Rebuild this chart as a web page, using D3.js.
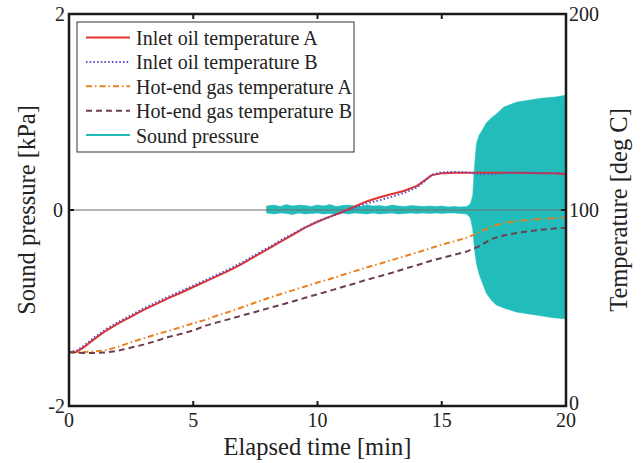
<!DOCTYPE html>
<html lang="en">
<head>
    <meta charset="UTF-8">
    <title>Sound pressure and temperatures</title>
    <script src="https://d3js.org/d3.v7.min.js"></script>
</head>

<style>
    body { margin: 0; background: #fff; }
    text { font-family: "Liberation Serif", "Times New Roman", serif; fill: #222; }
    .tick-label { font-size: 20px; }
    .axis-title { font-size: 24.5px; }
    .legend text { font-size: 20px; }
</style>

<body>
<svg width="641" height="463"></svg>

<script>
    // elapsed time [min] for the temperature traces
    var timeMin = [0, 0.3, 0.6, 1, 1.5, 2, 2.5, 3, 3.5, 4, 4.5, 5, 5.5, 6, 6.5, 7, 7.5, 8, 8.5, 9, 9.5,
        10, 10.5, 11, 11.5, 12, 12.5, 13, 13.5, 14, 14.3, 14.6, 15, 15.5, 16, 16.5, 17, 17.5, 18, 18.5, 19, 19.5, 20];

    // temperatures [deg C]
    var inletOilA = [27.4, 27.6, 30, 34, 38.5, 42.3, 45.6, 49, 52, 55, 57.8, 60.7, 63.6, 66.5, 69.5, 72.8, 76.5, 80, 83.7, 87.3, 91,
        94, 96.6, 99, 101.8, 104.5, 106.5, 108.2, 109.8, 112.3, 115, 117.8, 118.7, 119, 119, 119, 119, 119, 119, 118.9, 118.8, 118.7, 118.3];
    var inletOilB = [27.8, 28.2, 30.8, 34.8, 39.3, 43, 46.4, 49.8, 52.8, 55.8, 58.6, 61.4, 64.3, 67.2, 70.2, 73.5, 77.2, 80.7, 84.4, 87.9, 91.3,
        94.2, 96.5, 98.8, 101.2, 103.5, 105, 106.8, 108.8, 111.5, 114.5, 118, 119.3, 119.4, 119.2, 118.4, 118.4, 118.8, 119, 119, 118.9, 118.9, 119];
    var hotGasA = [27.4, 27.4, 27.5, 27.8, 28.5, 30.3, 32.5, 34.5, 36.5, 38.3, 40.2, 42.2, 44, 46.3, 48.3, 50.5, 52.8, 55, 57, 59, 61,
        63, 64.8, 66.8, 68.8, 70.8, 72.6, 74.5, 76.4, 78.3, 79.5, 80.7, 82.3, 84, 85.8, 88.5, 91.6, 93.4, 94.4, 95, 95.4, 95.8, 96.2];
    var hotGasB = [27.4, 27.2, 27, 27, 27.3, 28.3, 29.8, 31.3, 33.2, 35.2, 36.8, 38.5, 41, 42.8, 44.5, 46.3, 48, 49.8, 51.5, 53.3, 55.2,
        57, 58.8, 60.7, 62.5, 64.5, 66.2, 68, 70, 71.8, 73, 74.2, 75.5, 77.2, 78.8, 81.5, 85.2, 87, 88.3, 89.2, 89.9, 90.5, 91];

    // sound pressure envelope [kPa]
    var soundTime = [7.95, 8.25, 8.5, 8.75, 9, 9.25, 9.5, 9.75, 10, 10.25, 10.5, 10.75, 11, 11.25, 11.5, 11.75, 12, 12.25, 12.5, 12.75,
        13, 13.25, 13.5, 13.75, 14, 14.25, 14.5, 14.75, 15, 15.25, 15.5, 15.75, 16, 16.15, 16.25, 16.32, 16.4, 16.5, 16.6, 16.8,
        17, 17.2, 17.5, 18, 18.5, 19, 19.5, 20];
    var soundUpper = [0.04, 0.05, 0.035, 0.055, 0.04, 0.05, 0.045, 0.035, 0.05, 0.04, 0.055, 0.035, 0.045, 0.05, 0.04, 0.035, 0.05, 0.04, 0.045, 0.035,
        0.05, 0.04, 0.035, 0.045, 0.04, 0.035, 0.04, 0.035, 0.04, 0.03, 0.035, 0.03, 0.035, 0.06, 0.15, 0.45, 0.68, 0.76, 0.8, 0.89,
        0.94, 0.98, 1.05, 1.1, 1.12, 1.14, 1.15, 1.17];
    var soundLower = [-0.03, -0.04, -0.03, -0.035, -0.045, -0.03, -0.04, -0.035, -0.03, -0.04, -0.035, -0.045, -0.03, -0.04, -0.03, -0.035, -0.04, -0.03, -0.04, -0.035,
        -0.03, -0.04, -0.035, -0.03, -0.035, -0.03, -0.035, -0.03, -0.035, -0.03, -0.03, -0.035, -0.04, -0.08, -0.2, -0.4, -0.55, -0.65, -0.72, -0.85,
        -0.92, -0.97, -1.0, -1.04, -1.06, -1.08, -1.1, -1.11];

    var xTicks = [0, 5, 10, 15, 20];
    var leftTicks = [-2, 0, 2];
    var rightTicks = [0, 100, 200];

    var series = [
        {name: "Inlet oil temperature A", values: inletOilA, color: "#e3312c", dash: null},
        {name: "Inlet oil temperature B", values: inletOilB, color: "#5a4fc4", dash: "1.5,2.2"},
        {name: "Hot-end gas temperature A", values: hotGasA, color: "#e8801e", dash: "6,3,1.5,3"},
        {name: "Hot-end gas temperature B", values: hotGasB, color: "#6b3f4f", dash: "6,4"}
    ];
    var soundColor = "#22bdbb";

    var svg = d3.select("svg");
    var pLeft = 69, pRight = 566, pTop = 14, pBottom = 406;

    var x = d3.scaleLinear().domain([0, 20]).range([pLeft, pRight]);
    var yP = d3.scaleLinear().domain([-2, 2]).range([pBottom, pTop]);
    var yT = d3.scaleLinear().domain([0, 200]).range([pBottom, pTop]);

    svg.append("defs").append("clipPath").attr("id", "plot")
        .append("rect").attr("x", pLeft).attr("y", pTop)
        .attr("width", pRight - pLeft).attr("height", pBottom - pTop);

    var plot = svg.append("g").attr("clip-path", "url(#plot)");

    // sound pressure band
    var band = d3.area()
        .x(function(d, i) { return x(soundTime[i]); })
        .y0(function(d, i) { return yP(soundLower[i]); })
        .y1(function(d, i) { return yP(soundUpper[i]); });
    plot.append("path")
        .datum(soundTime)
        .attr("d", band)
        .attr("fill", soundColor)
        .attr("stroke", soundColor)
        .attr("stroke-width", 0.6);

    // zero line
    plot.append("line")
        .attr("x1", pLeft).attr("x2", pRight)
        .attr("y1", yP(0)).attr("y2", yP(0))
        .attr("stroke", "#707070")
        .attr("stroke-opacity", 0.7)
        .attr("stroke-width", 1.5);

    var line = d3.line()
        .x(function(d, i) { return x(timeMin[i]); })
        .y(function(d) { return yT(d); });

    series.forEach(function(s) {
        plot.append("path")
            .datum(s.values)
            .attr("d", line)
            .attr("fill", "none")
            .attr("stroke", s.color)
            .attr("stroke-width", 2)
            .attr("stroke-dasharray", s.dash);
    });

    // frame
    svg.append("rect")
        .attr("x", pLeft).attr("y", pTop)
        .attr("width", pRight - pLeft).attr("height", pBottom - pTop)
        .attr("fill", "none")
        .attr("stroke", "#1a1a1a")
        .attr("stroke-width", 2.5);

    // ticks
    var tk = svg.append("g").attr("stroke", "#1a1a1a").attr("stroke-width", 2);
    xTicks.forEach(function(t) {
        tk.append("line").attr("x1", x(t)).attr("x2", x(t)).attr("y1", pBottom).attr("y2", pBottom - 5);
        tk.append("line").attr("x1", x(t)).attr("x2", x(t)).attr("y1", pTop).attr("y2", pTop + 5);
    });
    leftTicks.forEach(function(t) {
        tk.append("line").attr("x1", pLeft).attr("x2", pLeft + 5).attr("y1", yP(t)).attr("y2", yP(t));
    });
    rightTicks.forEach(function(t) {
        tk.append("line").attr("x1", pRight - 5).attr("x2", pRight).attr("y1", yT(t)).attr("y2", yT(t));
    });

    // tick labels
    svg.append("g").selectAll("text").data(xTicks).enter().append("text")
        .attr("class", "tick-label")
        .attr("x", function(d) { return x(d); })
        .attr("y", pBottom + 21)
        .attr("text-anchor", "middle")
        .text(function(d) { return d; });

    svg.append("g").selectAll("text").data(leftTicks).enter().append("text")
        .attr("class", "tick-label")
        .attr("x", function(d) { return d === 0 ? pLeft - 6 : pLeft - 4; })
        .attr("y", function(d) { return yP(d) + 6.5; })
        .attr("text-anchor", "end")
        .text(function(d) { return d; });

    svg.append("g").selectAll("text").data(rightTicks).enter().append("text")
        .attr("class", "tick-label")
        .attr("x", pRight + 3)
        .attr("y", function(d) { return yT(d) + (d === 0 ? 4 : 6.5); })
        .attr("text-anchor", "start")
        .text(function(d) { return d; });

    // axis titles
    svg.append("text")
        .attr("class", "axis-title")
        .attr("x", (pLeft + pRight) / 2)
        .attr("y", 455)
        .attr("text-anchor", "middle")
        .text("Elapsed time [min]");

    svg.append("text")
        .attr("class", "axis-title")
        .attr("transform", "translate(34.5," + yP(0) + ") rotate(-90)")
        .attr("text-anchor", "middle")
        .text("Sound pressure [kPa]");

    svg.append("text")
        .attr("class", "axis-title")
        .attr("transform", "translate(626.5," + yT(100) + ") rotate(-90)")
        .attr("text-anchor", "middle")
        .text("Temperature [deg C]");

    // legend
    var legend = svg.append("g").attr("class", "legend");
    legend.append("rect")
        .attr("x", 77).attr("y", 22)
        .attr("width", 277).attr("height", 130)
        .attr("fill", "#fff")
        .attr("stroke", "#333")
        .attr("stroke-width", 1);

    var legendItems = series.map(function(s) { return {name: s.name, color: s.color, dash: s.dash}; })
        .concat([{name: "Sound pressure", color: soundColor, dash: null}]);

    legendItems.forEach(function(s, i) {
        var ly = 37.5 + i * 24.4;
        legend.append("line")
            .attr("x1", 86).attr("x2", 130)
            .attr("y1", ly).attr("y2", ly)
            .attr("stroke", s.color)
            .attr("stroke-width", 2)
            .attr("stroke-dasharray", s.dash);
        legend.append("text")
            .attr("x", 136)
            .attr("y", ly + 7.5)
            .text(s.name);
    });
</script>
</body>
</html>
